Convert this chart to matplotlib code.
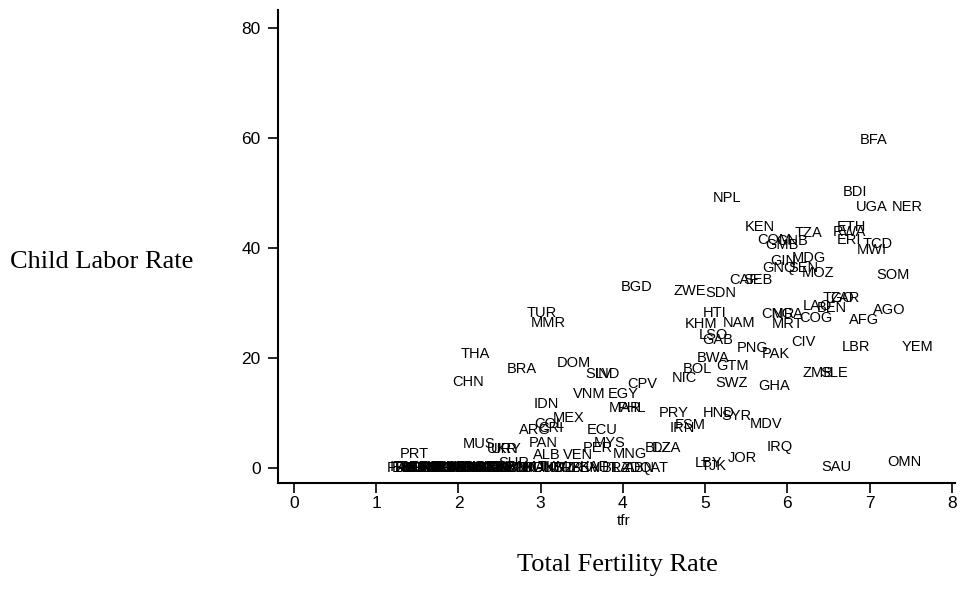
import matplotlib
matplotlib.use("Agg")
import matplotlib.pyplot as plt

# ---- data ----
codes = ["BFA", "NPL", "BDI", "UGA", "NER", "KEN", "ETH", "RWA", "TZA", "COM",
         "GNB", "GMB", "ERI", "TCD", "MWI", "GIN", "MDG", "GNQ", "SEN", "MOZ",
         "SOM", "CAF", "SEB", "BGD", "ZWE", "SDN", "TGO", "ZAR", "LAO", "BEN",
         "AGO", "AFG", "HTI", "CMR", "NGA", "MRT", "COG", "KHM", "NAM", "LSO",
         "GAB", "CIV", "LBR", "YEM", "PNG", "PAK", "BWA", "GTM", "BOL", "NIC",
         "ZMB", "SLE", "SWZ", "GHA", "TUR", "MMR", "THA", "BRA", "DOM", "SLV",
         "IND", "CHN", "CPV", "VNM", "EGY", "IDN", "MAR", "PHL", "PRY", "HND",
         "SYR", "MDV", "IRN", "FSM", "MEX", "COL", "CRI", "ARG", "ECU", "PAN",
         "MUS", "UKR", "URY", "MYS", "PER", "BLZ", "DZA", "MNG", "ALB", "VEN",
         "PRT", "IRQ", "JOR", "LBY", "TJK", "SAU", "OMN", "SUR"]
tfr = [6.88, 5.09, 6.67, 6.83, 7.27, 5.48, 6.60, 6.55, 6.09, 5.63,
       5.86, 5.73, 6.60, 6.92, 6.85, 5.79, 6.05, 5.70, 6.01, 6.18,
       7.08, 5.29, 5.46, 3.98, 4.61, 5.00, 6.43, 6.53, 6.19, 6.36,
       7.04, 6.75, 4.97, 5.68, 5.81, 5.81, 6.14, 4.75, 5.22, 4.92,
       4.96, 6.05, 6.66, 7.39, 5.39, 5.69, 4.90, 5.13, 4.73, 4.60,
       6.18, 6.40, 5.12, 5.65, 2.83, 2.88, 2.03, 2.59, 3.20, 3.54,
       3.66, 1.93, 4.05, 3.39, 3.81, 2.91, 3.83, 3.94, 4.44, 4.97,
       5.20, 5.54, 4.57, 4.63, 3.15, 2.92, 2.97, 2.74, 3.56, 2.86,
       2.05, 2.35, 2.40, 3.64, 3.51, 4.27, 4.35, 3.88, 2.91, 3.27,
       1.29, 5.75, 5.28, 4.88, 4.94, 6.42, 7.21, 2.48]
clr = [59.8, 49.3, 50.4, 47.6, 47.6, 44.0, 44.0, 43.1, 42.9, 41.6,
       41.4, 40.7, 41.6, 40.9, 39.8, 37.8, 38.4, 36.5, 36.5, 35.6,
       35.3, 34.4, 34.4, 33.1, 32.4, 32.0, 31.1, 31.1, 29.6, 29.3,
       28.9, 27.1, 28.4, 28.2, 28.2, 26.4, 27.5, 26.4, 26.5, 24.4,
       23.5, 23.1, 22.2, 22.2, 22.0, 20.9, 20.2, 18.7, 18.2, 16.5,
       17.5, 17.5, 15.6, 15.1, 28.4, 26.5, 20.9, 18.2, 19.3, 17.3,
       17.3, 15.8, 15.5, 13.6, 13.6, 11.8, 11.1, 11.1, 10.2, 10.2,
       9.6, 8.2, 7.5, 8.0, 9.3, 8.2, 7.5, 7.1, 7.1, 4.7,
       4.5, 3.6, 3.6, 4.7, 3.8, 3.8, 3.8, 2.7, 2.5, 2.5,
       2.7, 4.0, 2.0, 1.1, 0.5, 0.4, 1.3, 1.1]

# low-fertility countries clustered along zero
low_codes = ["FRA", "ITA", "ESP", "DEU", "AUT", "BEL", "BGR", "BLR", "CAN", "CHE",
             "CZE", "DNK", "EST", "FIN", "GBR", "GRC", "HRV", "HUN", "IRL", "JPN",
             "KOR", "LTU", "LVA", "MDA", "NLD", "NOR", "POL", "ROM", "RUS", "SVK",
             "SVN", "SWE", "AUS", "NZL", "USA", "SGP", "HKG", "CUB", "ARM", "GEO",
             "AZE", "KAZ", "BIH", "MKD", "LBN", "TTO", "JAM", "CHL", "LKA", "TUN",
             "GUY", "TKM", "KGZ", "BRR", "UZB", "BEN", "KAF", "VUT", "BRZ", "LAD",
             "ABN", "QAT"]
low_tfr = [1.13, 1.16, 1.19, 1.22, 1.25, 1.28, 1.31, 1.34, 1.37, 1.40,
           1.43, 1.46, 1.49, 1.52, 1.55, 1.58, 1.61, 1.64, 1.67, 1.70,
           1.73, 1.76, 1.79, 1.82, 1.85, 1.88, 1.91, 1.94, 1.97, 2.00,
           2.03, 2.06, 2.09, 2.12, 2.15, 2.18, 2.21, 2.24, 2.27, 2.30,
           2.33, 2.36, 2.40, 2.44, 2.52, 2.56, 2.60, 2.65, 2.72, 2.80,
           2.88, 2.96, 3.05, 3.15, 3.25, 3.36, 3.48, 3.60, 3.74, 3.88,
           4.02, 4.20]
low_clr = [0.2, 0.3, 0.1, 0.2, 0.2, 0.3, 0.2, 0.1, 0.2, 0.3,
           0.2, 0.2, 0.1, 0.3, 0.2, 0.2, 0.3, 0.1, 0.2, 0.2,
           0.3, 0.2, 0.1, 0.2, 0.3, 0.2, 0.2, 0.1, 0.3, 0.2,
           0.2, 0.3, 0.2, 0.1, 0.2, 0.3, 0.2, 0.2, 0.1, 0.3,
           0.2, 0.2, 0.3, 0.2, 0.2, 0.1, 0.3, 0.2, 0.2, 0.2,
           0.1, 0.3, 0.2, 0.2, 0.1, 0.2, 0.3, 0.2, 0.2, 0.1,
           0.2, 0.2]

xticks = [0, 1, 2, 3, 4, 5, 6, 7, 8]
yticks = [0, 20, 40, 60, 80]

W, H = 965, 603
fig = plt.figure(figsize=(W / 100, H / 100), dpi=100)
ax = fig.add_axes([278 / W, 1 - 483 / H, (955 - 278) / W, (483 - 10) / H])
ax.set_xlim(-0.195, 8.04)
ax.set_ylim(-2.73, 83.3)

lab_font = dict(family="Liberation Sans", fontsize=10.5, color="black")
for c, x, y in zip(codes + low_codes, tfr + low_tfr, clr + low_clr):
    ax.annotate(c, (x, y), xytext=(0, -3.6), textcoords="offset points",
                ha="left", va="baseline", **lab_font)

for s in ["top", "right"]:
    ax.spines[s].set_visible(False)
for s in ["left", "bottom"]:
    ax.spines[s].set_linewidth(1.5)
ax.set_xticks(xticks)
ax.set_yticks(yticks)
ax.tick_params(direction="out", length=7.5, width=1.2,
               labelsize=12.5, colors="black")
ax.tick_params(axis="y", pad=5)
ax.tick_params(axis="x", pad=2)
for t in ax.get_xticklabels() + ax.get_yticklabels():
    t.set_family("Liberation Sans")

fig.text(624 / W, 1 - 521 / H, "tfr", ha="center", va="center",
         family="Liberation Sans", fontsize=11)
fig.text(10 / W, 1 - 262 / H, "Child Labor Rate", ha="left", va="center",
         family="Liberation Serif", fontsize=19)
fig.text(617 / W, 1 - 565 / H, "Total Fertility Rate", ha="center", va="center",
         family="Liberation Serif", fontsize=19)

fig.savefig("out.png", dpi=100)
